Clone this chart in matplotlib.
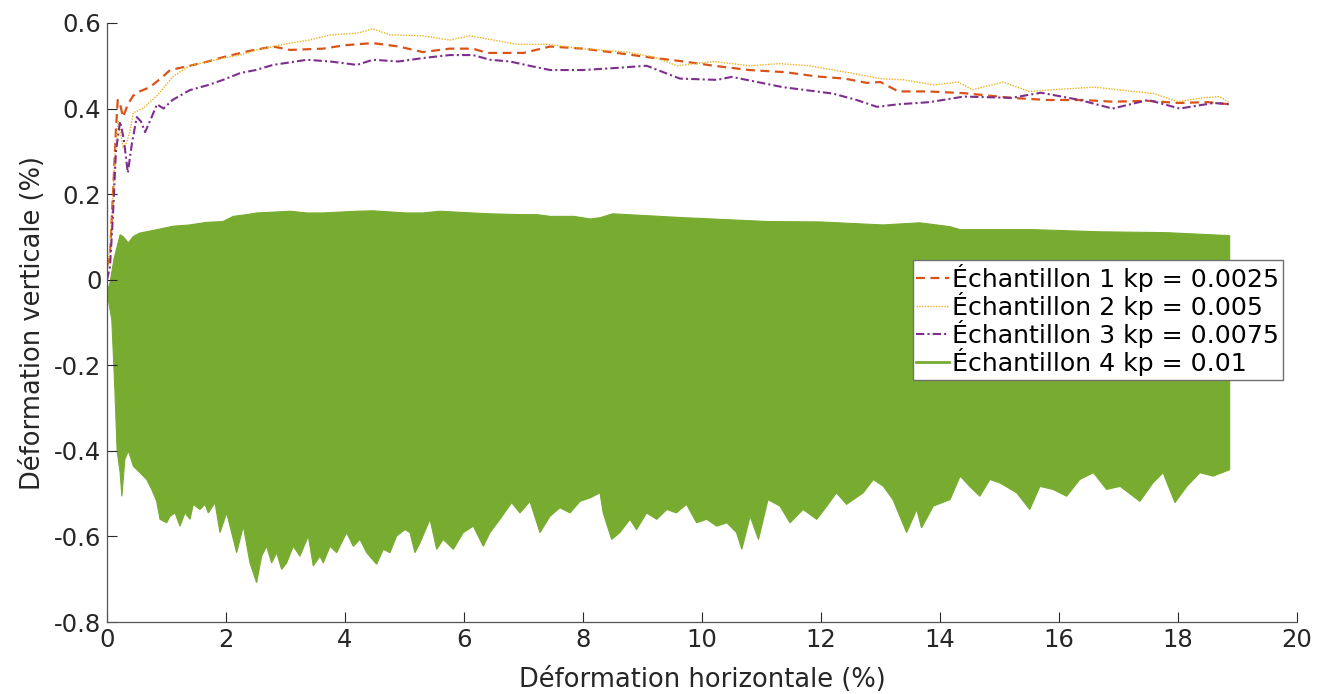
import numpy as np
import matplotlib
matplotlib.use("Agg")
from matplotlib import pyplot as plt
from matplotlib.lines import Line2D

plt.rcParams['font.family'] = ['DejaVu Sans']

# Echantillon 1 (kp = 0.0025)
x1 = [0, 0.05, 0.1, 0.15, 0.18, 0.22, 0.27, 0.35, 0.44, 0.55, 0.72, 0.9, 1.06, 1.39, 1.7,
      1.95, 2.4, 2.79, 3.08, 3.63, 4.0, 4.47, 4.9, 5.31, 5.76, 6.15, 6.39, 7.0, 7.45, 8.0,
      8.57, 9.1, 9.69, 10.2, 10.8, 11.4, 11.93, 12.4, 12.77, 13.0, 13.3, 13.8, 14.4, 15.2,
      15.8, 16.4, 16.9, 17.5, 18.0, 18.5, 18.87]
y1 = [0.03, 0.06, 0.2, 0.35, 0.42, 0.41, 0.38, 0.41, 0.43, 0.44, 0.45, 0.47, 0.49, 0.50, 0.51,
      0.52, 0.535, 0.545, 0.537, 0.54, 0.548, 0.553, 0.545, 0.532, 0.54, 0.54, 0.53, 0.53, 0.545, 0.54,
      0.53, 0.52, 0.51, 0.50, 0.49, 0.485, 0.475, 0.47, 0.46, 0.462, 0.44, 0.44, 0.436, 0.425,
      0.42, 0.42, 0.416, 0.418, 0.413, 0.415, 0.41]

# Echantillon 2 (kp = 0.005)
x2 = [0, 0.05, 0.1, 0.15, 0.19, 0.23, 0.27, 0.33, 0.39, 0.44, 0.6, 0.84, 1.11, 1.39, 1.7,
      1.95, 2.24, 2.52, 2.8, 3.08, 3.4, 3.75, 4.2, 4.47, 4.76, 5.31, 5.76, 6.1, 6.5, 6.9,
      7.4, 8.0, 8.74, 9.2, 9.58, 10.2, 10.8, 11.3, 11.8, 12.5, 13.0, 13.4, 13.9, 14.3, 14.55,
      15.06, 15.5, 15.9, 16.6, 17.24, 17.6, 18.0, 18.4, 18.7, 18.87]
y2 = [0.02, 0.08, 0.2, 0.33, 0.37, 0.34, 0.31, 0.32, 0.35, 0.39, 0.40, 0.43, 0.475, 0.50, 0.51,
      0.518, 0.525, 0.537, 0.545, 0.553, 0.56, 0.572, 0.576, 0.586, 0.572, 0.57, 0.56, 0.57, 0.56, 0.55,
      0.55, 0.54, 0.532, 0.52, 0.50, 0.51, 0.50, 0.505, 0.50, 0.483, 0.47, 0.467, 0.455, 0.462, 0.444,
      0.462, 0.44, 0.444, 0.45, 0.44, 0.435, 0.416, 0.425, 0.428, 0.413]

# Echantillon 3 (kp = 0.0075)
x3 = [0, 0.05, 0.1, 0.15, 0.22, 0.28, 0.35, 0.42, 0.5, 0.57, 0.64, 0.75, 0.84, 0.95, 1.1,
      1.39, 1.7, 1.95, 2.24, 2.5, 2.79, 3.08, 3.36, 3.75, 4.2, 4.47, 4.9, 5.31, 5.76, 6.15,
      6.44, 6.77, 7.1, 7.45, 8.0, 8.57, 9.07, 9.63, 10.25, 10.5, 11.0, 11.36, 12.2, 12.6, 12.94,
      13.3, 13.83, 14.4, 15.2, 15.7, 16.35, 16.9, 17.5, 18.03, 18.6, 18.87]
y3 = [0.0, 0.03, 0.15, 0.3, 0.37, 0.33, 0.25, 0.32, 0.38, 0.37, 0.345, 0.38, 0.41, 0.40, 0.42,
      0.443, 0.455, 0.467, 0.483, 0.49, 0.502, 0.508, 0.514, 0.51, 0.502, 0.514, 0.51, 0.518, 0.525, 0.525,
      0.514, 0.51, 0.50, 0.49, 0.49, 0.495, 0.50, 0.47, 0.467, 0.474, 0.46, 0.45, 0.435, 0.42, 0.404,
      0.41, 0.415, 0.428, 0.425, 0.437, 0.42, 0.40, 0.42, 0.40, 0.413, 0.41]

# Echantillon 4 (kp = 0.01) : enveloppe haute et basse de l'oscillation
x4_haut = [0, 0.05, 0.12, 0.22, 0.27, 0.36, 0.44, 0.55, 0.84, 1.11, 1.39, 1.67, 1.95, 2.12, 2.34,
           2.52, 3.08, 3.36, 3.63, 4.2, 4.47, 5.03, 5.31, 5.59, 6.15, 6.44, 7.0, 7.23, 7.45, 7.85,
           8.12, 8.29, 8.5, 9.69, 11.1, 12.0, 13.04, 13.66, 14.17, 14.34, 15.56, 16.69, 17.8, 18.87]
y4_haut = [-0.03, -0.007, 0.05, 0.105, 0.101, 0.086, 0.101, 0.109, 0.117, 0.125, 0.128, 0.134,
           0.136, 0.148, 0.152, 0.156, 0.16, 0.156, 0.156, 0.16, 0.161, 0.156, 0.156, 0.16, 0.156,
           0.154, 0.152, 0.152, 0.148, 0.148, 0.142, 0.145, 0.154, 0.145, 0.136, 0.135, 0.128,
           0.133, 0.124, 0.117, 0.117, 0.112, 0.11, 0.103]
x4_bas = [0, 0.08, 0.13, 0.17, 0.22, 0.25, 0.30, 0.36, 0.443, 0.555, 0.667, 0.751, 0.835, 0.891,
          1.003, 1.059, 1.143, 1.227, 1.311, 1.395, 1.451, 1.563, 1.647, 1.703, 1.815, 1.899, 2.011,
          2.095, 2.179, 2.291, 2.403, 2.515, 2.599, 2.683, 2.767, 2.851, 2.935, 3.019, 3.131, 3.243,
          3.383, 3.467, 3.579, 3.635, 3.748, 3.86, 4.028, 4.14, 4.252, 4.364, 4.532, 4.644, 4.756,
          4.868, 5.008, 5.092, 5.176, 5.261, 5.429, 5.541, 5.652, 5.821, 5.989, 6.157, 6.325, 6.437,
          6.605, 6.801, 6.941, 7.109, 7.277, 7.445, 7.613, 7.782, 7.95, 8.118, 8.286, 8.34, 8.482,
          8.62, 8.79, 8.9, 9.07, 9.24, 9.41, 9.57, 9.74, 9.91, 10.08, 10.25, 10.42, 10.58, 10.67,
          10.81, 10.95, 11.11, 11.31, 11.48, 11.7, 11.93, 12.1, 12.26, 12.43, 12.71, 12.88, 13.05,
          13.21, 13.44, 13.61, 13.69, 13.89, 14.17, 14.34, 14.5, 14.67, 14.84, 15.01, 15.29, 15.51,
          15.68, 15.9, 16.13, 16.35, 16.58, 16.8, 17.03, 17.36, 17.58, 17.75, 17.95, 18.15, 18.37,
          18.59, 18.87]
y4_bas = [-0.03, -0.093, -0.25, -0.40, -0.45, -0.506, -0.42, -0.40, -0.436, -0.451, -0.467, -0.49,
          -0.518, -0.56, -0.568, -0.553, -0.545, -0.576, -0.545, -0.56, -0.525, -0.537, -0.525,
          -0.545, -0.521, -0.591, -0.545, -0.591, -0.638, -0.576, -0.662, -0.708, -0.646, -0.623,
          -0.662, -0.638, -0.677, -0.662, -0.623, -0.646, -0.599, -0.669, -0.646, -0.662, -0.623,
          -0.638, -0.591, -0.623, -0.607, -0.638, -0.665, -0.63, -0.638, -0.599, -0.584, -0.591,
          -0.638, -0.615, -0.56, -0.63, -0.607, -0.63, -0.591, -0.576, -0.623, -0.591, -0.56, -0.521,
          -0.545, -0.518, -0.591, -0.553, -0.533, -0.545, -0.518, -0.51, -0.498, -0.545, -0.607,
          -0.591, -0.56, -0.584, -0.545, -0.56, -0.537, -0.545, -0.525, -0.568, -0.56, -0.576, -0.568,
          -0.591, -0.63, -0.553, -0.607, -0.514, -0.529, -0.568, -0.537, -0.56, -0.529, -0.498,
          -0.525, -0.498, -0.467, -0.483, -0.514, -0.591, -0.537, -0.58, -0.529, -0.514, -0.459,
          -0.483, -0.506, -0.467, -0.475, -0.498, -0.537, -0.483, -0.49, -0.506, -0.467, -0.451,
          -0.49, -0.483, -0.518, -0.475, -0.451, -0.521, -0.483, -0.451, -0.459, -0.444]

labels = ["Échantillon 1 kp = 0.0025", "Échantillon 2 kp = 0.005",
          "Échantillon 3 kp = 0.0075", "Échantillon 4 kp = 0.01"]
yticks = [-0.8, -0.6, -0.4, -0.2, 0, 0.2, 0.4, 0.6]
ytick_labels = ["-0.8", "-0.6", "-0.4", "-0.2", "0", "0.2", "0.4", "0.6"]
xticks = [0, 2, 4, 6, 8, 10, 12, 14, 16, 18, 20]

c1, c2, c3, c4 = "#D95319", "#EDB120", "#7E2F8E", "#77AC30"
gris = "#262626"

fig = plt.figure(figsize=(13.31, 6.94), dpi=100)
ax = fig.add_axes([0.0804, 0.1037, 0.894, 0.8632])

ax.fill(np.concatenate([x4_haut, x4_bas[::-1]]), np.concatenate([y4_haut, y4_bas[::-1]]),
        color=c4, lw=0.8, zorder=1)
ax.plot(x1, y1, color=c1, lw=1.6, ls=(0, (4, 2.5)), zorder=2)
ax.plot(x2, y2, color=c2, lw=1.0, ls=(0, (1, 1)), zorder=2)
ax.plot(x3, y3, color=c3, lw=1.5, ls=(0, (4, 1.5, 1, 1.5)), zorder=2)

ax.set_xlim(0, 20)
ax.set_ylim(-0.8, 0.6)
ax.set_xticks(xticks)
ax.set_yticks(yticks)
ax.set_yticklabels(ytick_labels)
ax.tick_params(direction="in", length=7, width=0.8, color=gris, labelcolor=gris,
               labelsize=17.5, pad=4)
for s in ["top", "right"]:
    ax.spines[s].set_visible(False)
for s in ["left", "bottom"]:
    ax.spines[s].set_color("#555555")
    ax.spines[s].set_linewidth(0.9)

ax.set_xlabel("Déformation horizontale (%)", fontsize=18.5, color=gris, labelpad=11)
ax.set_ylabel("Déformation verticale (%)", fontsize=18.5, color=gris, labelpad=6)

handles = [Line2D([], [], color=c1, lw=1.6, ls=(0, (4, 2.5))),
           Line2D([], [], color=c2, lw=1.0, ls=(0, (1, 1))),
           Line2D([], [], color=c3, lw=1.5, ls=(0, (4, 1.5, 1, 1.5))),
           Line2D([], [], color=c4, lw=2)]
leg = ax.legend(handles, labels, loc="upper left", bbox_to_anchor=(0.677, 0.604),
                borderaxespad=0, fontsize=18.2, handlelength=1.3, handletextpad=0.1,
                labelspacing=0.0, borderpad=0.15, fancybox=False, framealpha=1,
                edgecolor="#707070")
leg.get_frame().set_linewidth(1.0)

plt.savefig("out.png", dpi=100)
